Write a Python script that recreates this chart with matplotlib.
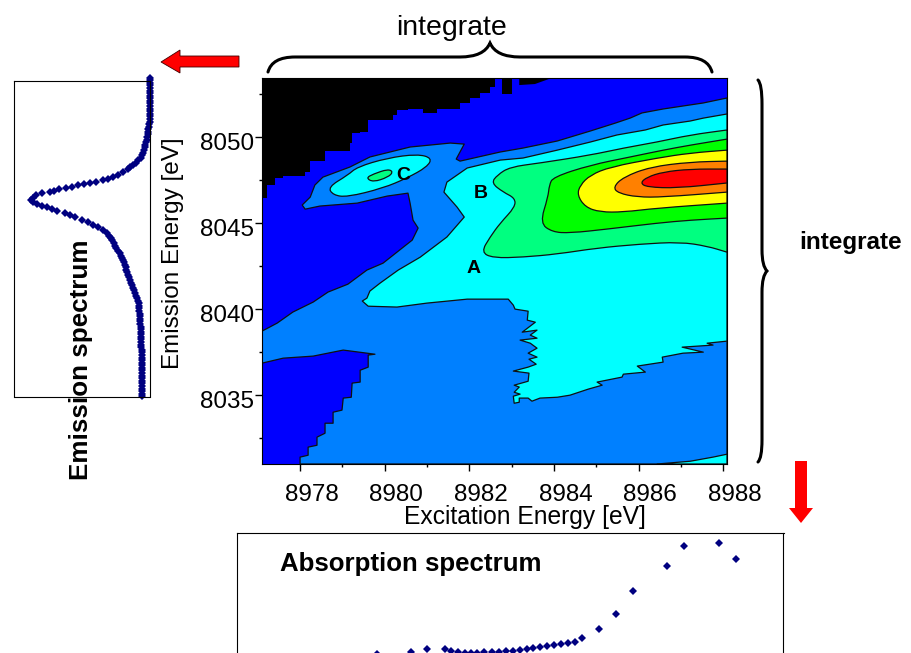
"""Excitation/emission contour map with the two integrated spectra."""
import matplotlib
matplotlib.use("Agg")
import matplotlib.pyplot as plt
import matplotlib.patches as mpatches
from matplotlib.path import Path
from matplotlib.transforms import ScaledTranslation
import numpy as np

plt.rcParams["font.family"] = ["Liberation Sans", "DejaVu Sans"]

W, H = 911, 653

# Contour outlines, (excitation eV, emission eV)
black_edge = np.array([
    (8977.10, 8046.45), (8977.22, 8047.21), (8977.41, 8047.62), (8977.60, 8047.73),
    (8978.12, 8047.97), (8978.24, 8048.60), (8978.59, 8049.19), (8979.18, 8049.65),
    (8979.23, 8050.23), (8979.42, 8050.29), (8979.61, 8050.99), (8980.20, 8051.28),
    (8980.29, 8051.57), (8980.55, 8051.63), (8980.91, 8051.40), (8981.24, 8051.63),
    (8981.78, 8051.98), (8982.02, 8052.27), (8982.26, 8052.56), (8982.49, 8052.91),
    (8982.61, 8052.91), (8982.61, 8053.46), (8977.10, 8053.46)])
black_notch = np.array([(8982.78, 8053.46), (8982.78, 8052.50), (8983.01, 8052.50), (8983.01, 8053.46)])
black_sliver = np.array([(8983.18, 8053.46), (8983.18, 8053.02), (8983.55, 8053.08), (8983.98, 8053.46)])

level2 = np.array([
    (8988.09, 8052.27), (8987.53, 8051.98), (8986.58, 8051.63), (8986.08, 8051.40),
    (8985.80, 8051.10), (8985.45, 8050.81), (8984.86, 8050.35), (8984.08, 8049.77),
    (8983.27, 8049.36), (8982.73, 8049.13), (8981.78, 8048.60), (8981.69, 8048.72),
    (8981.88, 8049.59), (8981.55, 8049.65), (8980.60, 8049.42), (8979.65, 8048.84),
    (8979.18, 8048.26), (8978.54, 8047.67), (8978.35, 8047.21), (8978.24, 8046.51),
    (8978.05, 8046.05), (8978.12, 8045.81), (8978.47, 8045.99), (8979.35, 8046.16),
    (8980.06, 8046.57), (8980.55, 8046.74), (8980.60, 8046.16), (8980.67, 8045.17),
    (8980.79, 8044.71), (8980.65, 8044.01), (8979.96, 8042.67), (8979.58, 8042.27),
    (8979.13, 8041.45), (8978.66, 8040.99), (8978.31, 8040.41), (8977.83, 8039.83),
    (8977.46, 8039.19), (8977.10, 8038.72), (8977.10, 8036.86), (8977.60, 8037.15),
    (8978.31, 8037.27), (8979.02, 8037.62), (8979.77, 8037.38), (8979.61, 8037.33),
    (8979.61, 8036.63), (8979.42, 8036.45), (8979.42, 8035.76), (8979.23, 8035.70),
    (8979.21, 8034.88), (8979.02, 8034.83), (8978.99, 8034.13), (8978.78, 8034.01),
    (8978.78, 8033.37), (8978.59, 8033.37), (8978.59, 8032.79), (8978.40, 8032.56),
    (8978.40, 8032.09), (8978.19, 8031.98), (8978.19, 8031.51), (8978.00, 8031.40),
    (8978.00, 8031.00), (8988.09, 8031.00)])

level3_main = np.array([
    (8988.09, 8051.34), (8987.53, 8051.10), (8987.22, 8050.93), (8986.58, 8050.70),
    (8986.16, 8050.41), (8985.49, 8050.12), (8984.86, 8049.71), (8984.08, 8049.24),
    (8983.27, 8048.78), (8982.73, 8048.66), (8981.95, 8048.20), (8981.47, 8047.38),
    (8981.40, 8046.80), (8981.71, 8045.93), (8981.88, 8045.35), (8981.47, 8044.19),
    (8980.84, 8043.02), (8980.32, 8042.27), (8979.89, 8041.51), (8979.65, 8041.05),
    (8979.58, 8040.64), (8979.47, 8040.47), (8979.61, 8040.17), (8980.29, 8040.12),
    (8981.00, 8040.35), (8981.95, 8040.58), (8982.92, 8040.58), (8983.04, 8040.23),
    (8983.08, 8040.00), (8983.39, 8039.88), (8983.37, 8039.36), (8983.56, 8039.24),
    (8983.25, 8038.66), (8983.60, 8038.78), (8983.44, 8038.49), (8983.60, 8038.31),
    (8983.20, 8038.20), (8983.44, 8038.02), (8983.60, 8037.73), (8983.39, 8037.44),
    (8983.60, 8037.21), (8983.41, 8037.09), (8983.58, 8036.80), (8983.39, 8036.63),
    (8983.04, 8036.40), (8983.41, 8036.28), (8983.39, 8035.81), (8983.06, 8035.58),
    (8983.18, 8035.47), (8983.06, 8035.17), (8983.20, 8035.06), (8983.04, 8034.94),
    (8983.06, 8034.53), (8983.18, 8034.59), (8983.18, 8034.83), (8983.39, 8034.83),
    (8983.48, 8034.65), (8983.67, 8034.83), (8984.08, 8034.88), (8984.38, 8035.00),
    (8984.81, 8035.35), (8985.14, 8035.58), (8985.02, 8035.76), (8985.61, 8036.05),
    (8985.64, 8036.22), (8986.16, 8036.34), (8985.97, 8036.69), (8986.58, 8036.92),
    (8986.56, 8037.21), (8987.05, 8037.44), (8987.53, 8037.50), (8987.03, 8037.79),
    (8987.76, 8037.91), (8987.62, 8038.02), (8988.09, 8038.14)])
level3_corner = np.array([(8986.44, 8031.00), (8987.22, 8031.16), (8987.76, 8031.40),
                          (8988.09, 8031.57), (8988.09, 8031.00)])
level3_c = np.array([
    (8978.66, 8047.09), (8979.13, 8047.79), (8979.35, 8048.26), (8980.06, 8048.78),
    (8980.77, 8049.01), (8981.12, 8048.78), (8981.00, 8048.26), (8980.53, 8047.62),
    (8979.96, 8047.03), (8979.11, 8046.51), (8978.78, 8046.63)])
level4_c = np.array([(8979.56, 8047.62), (8979.73, 8047.85), (8980.08, 8048.14),
                     (8980.20, 8047.97), (8980.08, 8047.67), (8979.73, 8047.38)])
level4 = np.array([
    (8988.09, 8050.41), (8987.22, 8050.12), (8986.44, 8049.71), (8985.64, 8049.36),
    (8984.86, 8048.95), (8983.67, 8048.49), (8982.96, 8048.26), (8982.66, 8047.79),
    (8982.52, 8047.33), (8982.80, 8046.80), (8983.08, 8046.45), (8983.08, 8045.93),
    (8982.73, 8045.00), (8982.49, 8044.19), (8982.28, 8043.31), (8982.56, 8042.97),
    (8983.27, 8043.02), (8984.08, 8043.20), (8985.02, 8043.55), (8986.04, 8043.78),
    (8986.98, 8043.90), (8987.62, 8043.66), (8988.09, 8043.31)])
level5 = np.array([
    (8988.09, 8049.88), (8987.22, 8049.53), (8986.58, 8049.24), (8985.80, 8048.84),
    (8984.86, 8048.37), (8983.98, 8047.67), (8983.89, 8047.21), (8983.86, 8046.51),
    (8983.67, 8045.00), (8983.96, 8044.48), (8984.38, 8044.42), (8985.26, 8044.65),
    (8986.44, 8045.00), (8987.22, 8045.17), (8988.09, 8045.29)])
level6 = np.array([
    (8988.09, 8049.24), (8987.22, 8049.07), (8986.44, 8048.78), (8985.33, 8048.26),
    (8984.86, 8047.79), (8984.62, 8047.21), (8984.55, 8046.63), (8984.74, 8045.93),
    (8985.09, 8045.64), (8985.64, 8045.64), (8986.44, 8045.87), (8988.09, 8046.16)])
level7 = np.array([
    (8988.09, 8048.60), (8987.22, 8048.55), (8986.27, 8048.26), (8985.64, 8047.67),
    (8985.40, 8047.09), (8985.52, 8046.74), (8985.97, 8046.51), (8986.58, 8046.51),
    (8988.09, 8046.80)])
level8 = np.array([
    (8988.09, 8048.14), (8987.22, 8048.14), (8986.58, 8047.97), (8986.20, 8047.67),
    (8986.04, 8047.33), (8986.20, 8047.09), (8986.91, 8047.03), (8988.09, 8047.33)])

# outline, colour, rounded corners, closed loop
contour_fills = [
    (level2, "#0080ff", False, False), (level3_main, "#00ffff", False, False),
    (level3_corner, "#00ffff", False, False), (level3_c, "#00ffff", True, True),
    (level4_c, "#00ff80", True, True), (level4, "#00ff80", True, False),
    (level5, "#00ff00", True, False), (level6, "#ffff00", True, False),
    (level7, "#ff8000", True, False), (level8, "#ff0000", True, False),
]

point_labels = ["A", "B", "C"]
point_x = [8982.09, 8982.28, 8980.43]
point_y = [8042.38, 8046.74, 8047.79]

# Emission spectrum (intensity, emission energy)
emission = np.array([
    (0, 8053.45), (0, 8053.30), (0, 8053.15), (0, 8053.00), (0, 8052.85), (0, 8052.70),
    (0, 8052.55), (0, 8052.40), (0, 8052.25), (0, 8052.10), (0, 8051.95), (0, 8051.80),
    (0, 8051.65), (0, 8051.50), (0, 8051.35), (0, 8051.20), (.002, 8051.05), (.003, 8050.90),
    (.005, 8050.75), (.007, 8050.60), (.011, 8050.45), (.014, 8050.30), (.017, 8050.15),
    (.02, 8050.00), (.024, 8049.85), (.028, 8049.70), (.033, 8049.55), (.038, 8049.40),
    (.044, 8049.25), (.05, 8049.10), (.058, 8048.95), (.069, 8048.80), (.086, 8048.65),
    (.105, 8048.50), (.125, 8048.37), (.143, 8048.25), (.161, 8048.14), (.198, 8047.97),
    (.234, 8047.79), (.271, 8047.67), (.308, 8047.56), (.344, 8047.50), (.396, 8047.38),
    (.44, 8047.35), (.484, 8047.27), (.527, 8047.21), (.571, 8047.12), (.615, 8047.03),
    (.667, 8046.98), (.703, 8046.89), (.733, 8046.80), (.791, 8046.74), (.835, 8046.63),
    (.857, 8046.48), (.872, 8046.34), (.857, 8046.22), (.828, 8046.10), (.791, 8046.02),
    (.755, 8045.93), (.718, 8045.81), (.681, 8045.70), (.623, 8045.58), (.586, 8045.47),
    (.549, 8045.35), (.498, 8045.20), (.454, 8045.06), (.418, 8044.91), (.381, 8044.77),
    (.344, 8044.59), (.315, 8044.42), (.30, 8044.28), (.286, 8044.13), (.275, 8044.00),
    (.263, 8043.85), (.256, 8043.70), (.248, 8043.55), (.236, 8043.40), (.22, 8043.26),
    (.212, 8043.10), (.205, 8042.97), (.197, 8042.85), (.19, 8042.73), (.184, 8042.60),
    (.178, 8042.45), (.173, 8042.30), (.167, 8042.15), (.16, 8042.00), (.153, 8041.85),
    (.147, 8041.70), (.14, 8041.55), (.132, 8041.40), (.125, 8041.25), (.117, 8041.10),
    (.11, 8040.95), (.102, 8040.80), (.095, 8040.65), (.088, 8040.50), (.083, 8040.35),
    (.08, 8040.20), (.078, 8040.05), (.077, 8039.90), (.075, 8039.75), (.074, 8039.60),
    (.073, 8039.45), (.071, 8039.30), (.07, 8039.15), (.068, 8039.00), (.067, 8038.85),
    (.066, 8038.70), (.066, 8038.55), (.066, 8038.40), (.066, 8038.25), (.066, 8038.10),
    (.066, 8037.95), (.064, 8037.80), (.062, 8037.65), (.061, 8037.50), (.06, 8037.35),
    (.059, 8037.20), (.059, 8037.05), (.059, 8036.90), (.059, 8036.75), (.059, 8036.60),
    (.059, 8036.45), (.059, 8036.30), (.059, 8036.15), (.059, 8036.00), (.059, 8035.85),
    (.059, 8035.70), (.059, 8035.55), (.059, 8035.40), (.059, 8035.25), (.059, 8035.10),
    (.059, 8034.95)])

# Absorption spectrum (excitation energy, intensity)
absorption_e = [
    8979.83, 8980.62, 8981.01, 8981.42, 8981.56, 8981.74, 8981.89, 8982.04, 8982.18, 8982.36,
    8982.53, 8982.70, 8982.87, 8983.04, 8983.20, 8983.37, 8983.52, 8983.67, 8983.84, 8984.00,
    8984.17, 8984.34, 8984.51, 8984.67, 8985.07, 8985.47, 8985.87, 8986.67, 8987.07, 8987.90,
    8988.30]
absorption_i = [
    -.007, .007, .037, .037, .017, .01, .003, .003, .005, .007,
    .01, .013, .02, .023, .033, .04, .047, .057, .067, .077,
    .087, .097, .11, .147, .237, .39, .623, .873, 1.067, 1.10,
    .94]

x_major = [8978, 8980, 8982, 8984, 8986, 8988]
x_minor = [8979, 8981, 8983, 8985, 8987]
y_major = [8035, 8040, 8045, 8050]
y_minor = [8032.5, 8037.5, 8042.5, 8047.5, 8052.5]


def px_axes(fig, left, top, right, bottom, **kw):
    """add_axes, but with pixel edges measured from the top left."""
    return fig.add_axes([left / W, 1 - bottom / H, (right - left) / W, (bottom - top) / H], **kw)


def staircase(points):
    """Blocky outline: go across first, then up, between neighbouring points."""
    out = [points[0]]
    for (x0, y0), (x1, y1) in zip(points[:-1], points[1:]):
        out.append((x1, y0))
        out.append((x1, y1))
    return np.array(out)


def outline_path(points, closed):
    """Path through the points with the corners rounded off."""
    mids = (points[:-1] + points[1:]) / 2
    if closed:
        start = (points[-1] + points[0]) / 2
        verts = [start]
        codes = [Path.MOVETO]
        for p, m in zip(points[:-1], mids):
            verts += [p, m]
            codes += [Path.CURVE3, Path.CURVE3]
        verts += [points[-1], start]
        codes += [Path.CURVE3, Path.CURVE3]
    else:
        verts = [points[0], mids[0]]
        codes = [Path.MOVETO, Path.LINETO]
        for p, m in zip(points[1:-1], mids[1:]):
            verts += [p, m]
            codes += [Path.CURVE3, Path.CURVE3]
        verts += [points[-1], points[0]]
        codes += [Path.LINETO, Path.LINETO]
    return Path(verts, codes)


fig = plt.figure(figsize=(W / 100, H / 100), dpi=100, facecolor="white")

# --- contour map ---
ax = px_axes(fig, 262, 77.5, 727, 464, facecolor="#0000ff")
ax.set_xlim(8977.10, 8988.09)
ax.set_ylim(8031.00, 8053.46)
black_shape = np.vstack([staircase(black_edge[:20]), black_edge[20:]])
for shape in (black_shape, black_notch, black_sliver):
    ax.fill(shape[:, 0], shape[:, 1], color="black", lw=0)
for shape, colour, rounded, closed in contour_fills:
    if rounded:
        ax.add_patch(mpatches.PathPatch(outline_path(shape, closed), facecolor=colour,
                                        edgecolor="#101010", lw=0.9))
    else:
        ax.fill(shape[:, 0], shape[:, 1], facecolor=colour, edgecolor="#101010",
                lw=0.9, joinstyle="round")
for label, px, py in zip(point_labels, point_x, point_y):
    ax.text(px, py, label, ha="center", va="center", fontsize=14, fontweight="bold")

ax.set_xticks(x_major)
ax.set_xticks(x_minor, minor=True)
ax.set_yticks(y_major)
ax.set_yticks(y_minor, minor=True)
ax.tick_params(which="major", length=5, width=1, labelsize=17.5)
ax.tick_params(which="minor", length=2, width=1)
ax.tick_params(axis="x", which="major", pad=9.5)
ax.tick_params(axis="y", which="major", pad=0.5)
ax.xaxis.get_major_formatter().set_useOffset(False)
ax.yaxis.get_major_formatter().set_useOffset(False)
for lbl in ax.get_xticklabels():
    lbl.set_transform(lbl.get_transform() + ScaledTranslation(11.5 / 100, 0, fig.dpi_scale_trans))
for lbl in ax.get_yticklabels():
    lbl.set_transform(lbl.get_transform() + ScaledTranslation(0, -4 / 100, fig.dpi_scale_trans))
ax.set_xlabel("Excitation Energy [eV]", fontsize=17.7, va="center")
ax.xaxis.set_label_coords(0.5656, -0.138)
ax.set_ylabel("Emission Energy [eV]", fontsize=17.5, va="center")
ax.yaxis.set_label_coords(-0.192, 0.546)

# --- emission spectrum ---
ax_em = px_axes(fig, 13.5, 80.7, 150, 396.5)
ax_em.set_xlim(1, 0)
ax_em.set_ylim(8034.94, 8053.27)
ax_em.plot(emission[:, 0], emission[:, 1], ls="none", marker="D", ms=3.9, mew=0,
           color="#000080", clip_on=False)
ax_em.set_xticks([])
ax_em.set_yticks([])

# --- absorption spectrum, box runs off the bottom of the figure ---
ax_abs = px_axes(fig, 236.5, 532.7, 783.5, 700)
ax_abs.set_xlim(8976.50, 8989.43)
ax_abs.set_ylim(-0.47, 1.203)
ax_abs.plot(absorption_e, absorption_i, ls="none", marker="D", ms=4.3, mew=0, color="#000080")
ax_abs.set_xticks([])
ax_abs.set_yticks([])

# --- annotation layer in pixels ---
over = fig.add_axes([0, 0, 1, 1], facecolor="none")
over.set_xlim(0, W)
over.set_ylim(H, 0)
over.axis("off")

over.text(452, 28, "integrate", fontsize=20.5, ha="center", va="center")
over.text(851, 243, "integrate", fontsize=17.5, fontweight="bold", ha="center", va="center")
over.text(81, 360, "Emission spectrum", fontsize=18.7, fontweight="bold", rotation=90,
          ha="center", va="center")
over.text(411, 564, "Absorption spectrum", fontsize=18.6, fontweight="bold", ha="center", va="center")

C3 = Path.CURVE3
brace_top = Path(
    [(268, 72), (272, 57), (295, 57), (460, 57), (484, 57), (490, 43),
     (496, 57), (520, 57), (685, 57), (708, 57), (712, 72)],
    [Path.MOVETO, C3, C3, Path.LINETO, C3, C3, C3, C3, Path.LINETO, C3, C3])
brace_right = Path(
    [(758, 80), (762, 84), (762, 104), (762, 250), (762, 266), (767, 271),
     (762, 276), (762, 292), (762, 440), (762, 458), (758, 462)],
    [Path.MOVETO, C3, C3, Path.LINETO, C3, C3, C3, C3, Path.LINETO, C3, C3])
for brace in (brace_top, brace_right):
    over.add_patch(mpatches.PathPatch(brace, fill=False, lw=2.2, edgecolor="black", capstyle="round"))

over.fill([161, 180, 180, 239, 239, 180, 180], [62, 50, 56, 56, 67, 67, 73],
          facecolor="#ff0000", edgecolor="#400000", lw=0.6)
over.fill([795, 807, 807, 813, 801, 789, 795], [461, 461, 508, 508, 523, 508, 508],
          facecolor="#ff0000", lw=0)

fig.savefig("out.png", dpi=100)
